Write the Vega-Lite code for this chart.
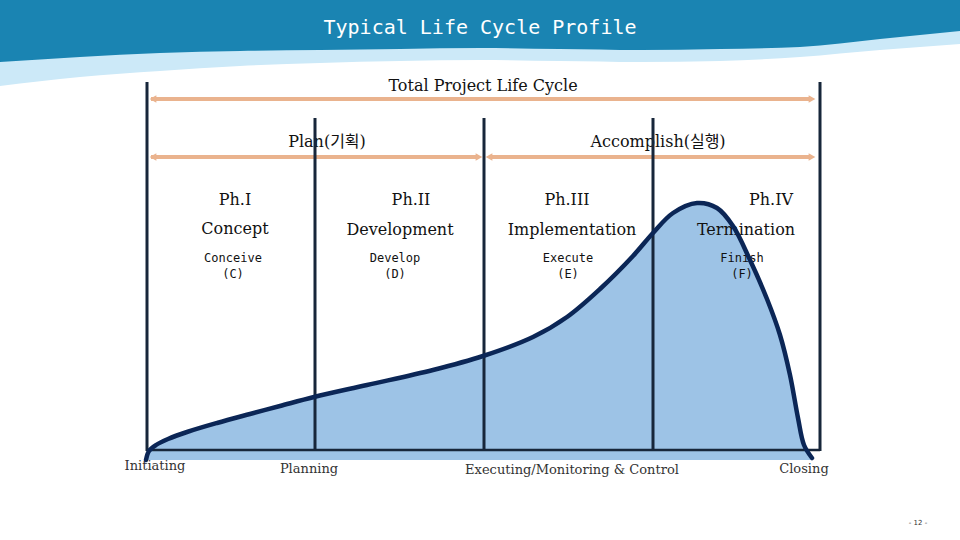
{
  "$schema": "https://vega.github.io/schema/vega-lite/v6.json",
  "width": 960,
  "height": 540,
  "padding": 0,
  "autosize": {"type": "fit", "contains": "padding"},
  "background": "white",
  "config": {"view": {"stroke": null}},
  "datasets": {
    "header": [
      {"x": 0, "dark": 62, "light": 86},
      {"x": 80, "dark": 57, "light": 77},
      {"x": 160, "dark": 53, "light": 71},
      {"x": 240, "dark": 51, "light": 66},
      {"x": 320, "dark": 50, "light": 63},
      {"x": 400, "dark": 49, "light": 61},
      {"x": 480, "dark": 48, "light": 60},
      {"x": 560, "dark": 49, "light": 61},
      {"x": 640, "dark": 50, "light": 62},
      {"x": 720, "dark": 49, "light": 61},
      {"x": 800, "dark": 47, "light": 57},
      {"x": 880, "dark": 39, "light": 50},
      {"x": 960, "dark": 31, "light": 44}
    ],
    "curve": [
      {"x": 146, "y": 460},
      {"x": 149, "y": 451},
      {"x": 156, "y": 445},
      {"x": 168, "y": 439},
      {"x": 187, "y": 432},
      {"x": 217, "y": 423},
      {"x": 250, "y": 414},
      {"x": 280, "y": 406},
      {"x": 314, "y": 397},
      {"x": 367, "y": 385},
      {"x": 433, "y": 370},
      {"x": 483, "y": 356},
      {"x": 533, "y": 337},
      {"x": 567, "y": 317},
      {"x": 600, "y": 289},
      {"x": 633, "y": 256},
      {"x": 653, "y": 233},
      {"x": 673, "y": 213},
      {"x": 697, "y": 203},
      {"x": 717, "y": 208},
      {"x": 733, "y": 226},
      {"x": 750, "y": 260},
      {"x": 767, "y": 299},
      {"x": 780, "y": 335},
      {"x": 790, "y": 375},
      {"x": 798, "y": 418},
      {"x": 804, "y": 445},
      {"x": 812, "y": 458}
    ]
  },
  "layer": [
    {
      "data": {"name": "header"},
      "mark": {"type": "area", "color": "#cce9f8", "interpolate": "monotone"},
      "encoding": {
        "x": {"field": "x", "type": "quantitative", "scale": {"domain": [0, 960], "nice": false, "zero": false}, "axis": null},
        "y": {"field": "light", "type": "quantitative", "scale": {"domain": [540, 0], "nice": false, "zero": false}, "axis": null},
        "y2": {"datum": 0}
      }
    },
    {
      "data": {"name": "header"},
      "mark": {"type": "area", "color": "#1a84b2", "interpolate": "monotone"},
      "encoding": {
        "x": {"field": "x", "type": "quantitative", "axis": null},
        "y": {"field": "dark", "type": "quantitative", "axis": null},
        "y2": {"datum": 0}
      }
    },
    {
      "data": {"values": [{"label": "Typical Life Cycle Profile", "x": 480, "y": 28}]},
      "mark": {"type": "text", "font": "DejaVu Sans Mono", "fontSize": 20, "color": "white", "align": "center", "baseline": "middle"},
      "encoding": {
        "x": {"field": "x", "type": "quantitative", "axis": null},
        "y": {"field": "y", "type": "quantitative", "axis": null},
        "text": {"field": "label"}
      }
    },
    {
      "data": {"name": "curve"},
      "mark": {"type": "area", "color": "#9dc3e6", "interpolate": "catmull-rom"},
      "encoding": {
        "x": {"field": "x", "type": "quantitative", "axis": null},
        "y": {"field": "y", "type": "quantitative", "axis": null},
        "y2": {"datum": 460}
      }
    },
    {
      "data": {"values": [
        {"label": "Total Project Life Cycle", "x": 483, "y": 86},
        {"label": "Plan(기획)", "x": 327, "y": 142},
        {"label": "Accomplish(실행)", "x": 658, "y": 142},
        {"label": "Ph.I", "x": 235, "y": 200},
        {"label": "Ph.II", "x": 411, "y": 200},
        {"label": "Ph.III", "x": 567, "y": 200},
        {"label": "Ph.IV", "x": 771, "y": 200},
        {"label": "Concept", "x": 235, "y": 229},
        {"label": "Development", "x": 400, "y": 230},
        {"label": "Implementation", "x": 572, "y": 230},
        {"label": "Termination", "x": 746, "y": 230}
      ]},
      "mark": {"type": "text", "font": "DejaVu Serif, Noto Sans CJK KR", "fontSize": 16, "color": "#111111", "align": "center", "baseline": "middle"},
      "encoding": {
        "x": {"field": "x", "type": "quantitative", "axis": null},
        "y": {"field": "y", "type": "quantitative", "axis": null},
        "text": {"field": "label"}
      }
    },
    {
      "data": {"values": [
        {"label": "Conceive", "x": 233, "y": 258},
        {"label": "(C)", "x": 233, "y": 274},
        {"label": "Develop", "x": 395, "y": 258},
        {"label": "(D)", "x": 395, "y": 274},
        {"label": "Execute", "x": 568, "y": 258},
        {"label": "(E)", "x": 568, "y": 274},
        {"label": "Finish", "x": 742, "y": 258},
        {"label": "(F)", "x": 742, "y": 274}
      ]},
      "mark": {"type": "text", "font": "DejaVu Sans Mono", "fontSize": 12, "color": "#111111", "align": "center", "baseline": "middle"},
      "encoding": {
        "x": {"field": "x", "type": "quantitative", "axis": null},
        "y": {"field": "y", "type": "quantitative", "axis": null},
        "text": {"field": "label"}
      }
    },
    {
      "data": {"values": [
        {"label": "Initiating", "x": 155, "y": 466},
        {"label": "Planning", "x": 309, "y": 469},
        {"label": "Executing/Monitoring & Control", "x": 572, "y": 470},
        {"label": "Closing", "x": 804, "y": 469}
      ]},
      "mark": {"type": "text", "font": "DejaVu Serif", "fontSize": 13, "color": "#333333", "align": "center", "baseline": "middle"},
      "encoding": {
        "x": {"field": "x", "type": "quantitative", "axis": null},
        "y": {"field": "y", "type": "quantitative", "axis": null},
        "text": {"field": "label"}
      }
    },
    {
      "data": {"values": [{"label": "- 12 -", "x": 918, "y": 523}]},
      "mark": {"type": "text", "font": "DejaVu Sans", "fontSize": 7, "color": "#333333", "align": "center", "baseline": "middle"},
      "encoding": {
        "x": {"field": "x", "type": "quantitative", "axis": null},
        "y": {"field": "y", "type": "quantitative", "axis": null},
        "text": {"field": "label"}
      }
    },
    {
      "data": {"values": [
        {"x": 151, "x2": 812, "y": 99},
        {"x": 151, "x2": 478, "y": 157},
        {"x": 490, "x2": 812, "y": 157}
      ]},
      "mark": {"type": "rule", "color": "#eab38e", "strokeWidth": 4},
      "encoding": {
        "x": {"field": "x", "type": "quantitative", "axis": null},
        "x2": {"field": "x2"},
        "y": {"field": "y", "type": "quantitative", "axis": null}
      }
    },
    {
      "data": {"values": [
        {"x": 153, "y": 99, "dir": "left"},
        {"x": 153, "y": 157, "dir": "left"},
        {"x": 489, "y": 157, "dir": "left"},
        {"x": 812, "y": 99, "dir": "right"},
        {"x": 479, "y": 157, "dir": "right"},
        {"x": 812, "y": 157, "dir": "right"}
      ]},
      "mark": {"type": "point", "filled": true, "color": "#eab38e", "opacity": 1, "size": 60},
      "encoding": {
        "x": {"field": "x", "type": "quantitative", "axis": null},
        "y": {"field": "y", "type": "quantitative", "axis": null},
        "shape": {"field": "dir", "type": "nominal", "scale": {"domain": ["left", "right"], "range": ["triangle-left", "triangle-right"]}, "legend": null}
      }
    },
    {
      "data": {"values": [
        {"x": 147, "top": 82, "bottom": 451},
        {"x": 315, "top": 118, "bottom": 449},
        {"x": 484, "top": 118, "bottom": 450},
        {"x": 653, "top": 118, "bottom": 449},
        {"x": 820, "top": 82, "bottom": 451}
      ]},
      "mark": {"type": "rule", "color": "#17263a", "strokeWidth": 3},
      "encoding": {
        "x": {"field": "x", "type": "quantitative", "axis": null},
        "y": {"field": "top", "type": "quantitative", "axis": null},
        "y2": {"field": "bottom"}
      }
    },
    {
      "data": {"values": [{"x": 147, "x2": 820, "y": 450}]},
      "mark": {"type": "rule", "color": "#17263a", "strokeWidth": 2.5},
      "encoding": {
        "x": {"field": "x", "type": "quantitative", "axis": null},
        "x2": {"field": "x2"},
        "y": {"field": "y", "type": "quantitative", "axis": null}
      }
    },
    {
      "data": {"name": "curve"},
      "mark": {"type": "line", "color": "#0b2656", "strokeWidth": 4.5, "interpolate": "catmull-rom", "strokeCap": "round"},
      "encoding": {
        "x": {"field": "x", "type": "quantitative", "axis": null},
        "y": {"field": "y", "type": "quantitative", "axis": null}
      }
    }
  ]
}
